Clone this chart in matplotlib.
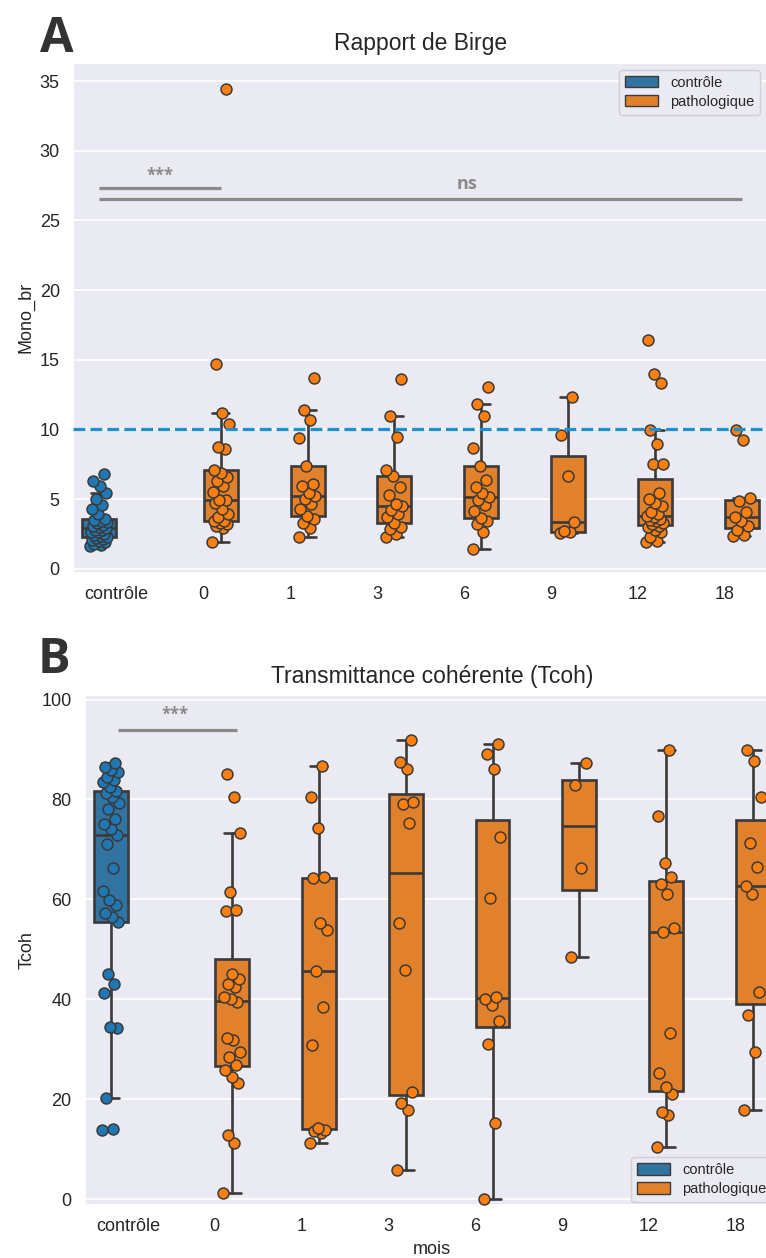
import numpy as np
import matplotlib.pyplot as plt
import seaborn as sns
from matplotlib.patches import Patch

sns.set_theme(style="darkgrid")
plt.rcParams['font.family'] = ['Liberation Sans', 'DejaVu Sans']

# categories on the x axis
mois = ['contrôle', '0', '1', '3', '6', '9', '12', '18']
groupes = ['contrôle', 'pathologique']

# Rapport de Birge (Mono_br)
birge_controle = [1.6, 1.7, 1.8, 1.9, 2.0, 2.05, 2.1, 2.2, 2.25, 2.35, 2.45, 2.5, 2.6,
                  2.65, 2.75, 2.8, 2.9, 3.0, 3.05, 3.15, 3.25, 3.35, 3.45, 3.5, 3.57,
                  3.9, 4.3, 4.6, 5.0, 5.4, 5.9, 6.3, 6.8]
birge_m0 = [1.9, 2.9, 3.1, 3.2, 3.3, 3.4, 3.4, 3.7, 3.9, 4.3, 4.7, 4.9, 4.95, 5.5,
            5.9, 6.3, 6.6, 6.9, 7.05, 8.6, 8.7, 10.4, 11.2, 14.7, 34.4]
birge_m1 = [2.3, 2.9, 3.3, 3.6, 3.8, 4.3, 4.65, 5.0, 5.2, 5.4, 5.9, 6.1, 7.35, 9.4,
            10.7, 11.4, 13.7]
birge_m3 = [2.25, 2.5, 2.85, 3.0, 3.26, 3.69, 3.9, 4.2, 4.48, 4.65, 5.3, 5.85, 6.64,
            7.05, 9.45, 10.94, 13.65]
birge_m6 = [1.42, 2.61, 3.2, 3.4, 3.65, 4.17, 4.6, 4.9, 5.13, 5.42, 5.85, 6.38, 7.34,
            8.68, 10.94, 11.85, 13.04]
birge_m9 = [2.58, 2.62, 2.7, 3.38, 6.62, 9.57, 12.33]
birge_m12 = [1.9, 2.0, 2.3, 2.6, 2.8, 3.0, 3.1, 3.2, 3.3, 3.4, 3.5, 3.6, 3.7, 3.81,
             3.95, 4.1, 4.5, 4.7, 5.0, 5.4, 7.5, 7.55, 8.97, 9.97, 13.3, 14.0, 16.4]
birge_m18 = [2.35, 2.45, 2.75, 3.05, 3.4, 3.73, 4.09, 4.85, 5.05, 9.24, 9.96]

# Transmittance coherente (Tcoh)
tcoh_controle = [13.8, 14.0, 20.3, 34.2, 34.5, 41.2, 43.0, 45.0, 55.5, 56.5, 57.2,
                 58.9, 59.9, 61.7, 66.2, 71.0, 72.9, 74.0, 75.0, 76.0, 78.0, 79.2,
                 80.5, 81.2, 81.7, 82.5, 83.5, 84.0, 84.5, 85.5, 86.0, 86.5, 87.3]
tcoh_m0 = [1.2, 11.2, 12.9, 23.2, 24.5, 25.9, 26.9, 28.5, 29.5, 31.8, 32.2, 39.5,
           40.0, 40.5, 42.5, 43.0, 44.0, 45.0, 57.6, 57.9, 61.5, 73.2, 80.5, 85.2]
tcoh_m1 = [11.2, 13.2, 13.6, 13.9, 14.2, 30.9, 38.5, 45.7, 53.9, 55.2, 64.2, 64.5,
           74.2, 80.5, 86.7]
tcoh_m3 = [5.9, 17.9, 19.2, 21.5, 45.9, 55.2, 75.2, 79.0, 79.5, 86.2, 87.5, 91.9]
tcoh_m6 = [0.0, 15.3, 31.0, 35.7, 38.9, 40.0, 40.5, 60.2, 72.4, 86.2, 89.2, 91.1]
tcoh_m9 = [48.5, 66.3, 82.9, 87.3]
tcoh_m12 = [10.5, 16.9, 17.4, 21.0, 22.4, 25.3, 33.2, 53.5, 54.2, 61.1, 63.1, 64.4,
            67.3, 76.7, 89.9]
tcoh_m18 = [17.9, 29.4, 36.9, 41.4, 61.1, 62.7, 66.5, 71.2, 80.4, 87.7, 89.9]

birge = [birge_controle, birge_m0, birge_m1, birge_m3, birge_m6, birge_m9, birge_m12, birge_m18]
tcoh = [tcoh_controle, tcoh_m0, tcoh_m1, tcoh_m3, tcoh_m6, tcoh_m9, tcoh_m12, tcoh_m18]

box_col = ['#3274a1', '#e1812c']
pt_col = ['#1f77b4', '#ff7f0e']
edge = '#3a3a3a'
sig_grey = '#8a8a8a'


def draw_panel(ax, series):
    for i, vals in enumerate(series):
        g = 0 if i == 0 else 1
        pos = i - 0.2 if g == 0 else i + 0.2
        ax.boxplot(vals, positions=[pos], widths=0.39, patch_artist=True,
                   boxprops=dict(facecolor=box_col[g], edgecolor=edge, linewidth=1.9),
                   medianprops=dict(color=edge, linewidth=1.9),
                   whiskerprops=dict(color=edge, linewidth=1.9),
                   capprops=dict(color=edge, linewidth=1.9),
                   showfliers=False, manage_ticks=False, zorder=2)
        # deterministic jitter (golden-ratio sequence)
        jit = ((np.arange(len(vals)) * 0.618034) % 1 - 0.5) * 0.2
        ax.scatter(pos + jit, vals, s=62, color=pt_col[g], edgecolors=edge,
                   linewidths=1.1, zorder=3)
    ax.set_xlim(-0.5, 7.5)
    ax.set_xticks(range(len(mois)))
    ax.set_xticklabels(mois)
    ax.xaxis.grid(False)
    ax.yaxis.grid(True, color='white', linewidth=1.3)
    ax.tick_params(labelsize=13, colors='#262626')


fig = plt.figure(figsize=(7.66, 12.58), dpi=100)
axA = fig.add_axes([73 / 766, 0.5445, 695 / 766, 0.4057])
axB = fig.add_axes([84.6 / 766, 0.0421, 694.4 / 766, 0.4054])

handles = [Patch(facecolor=box_col[0], edgecolor=edge, label=groupes[0]),
           Patch(facecolor=box_col[1], edgecolor=edge, label=groupes[1])]
leg_kw = dict(fontsize=10.5, handlelength=2.3, handleheight=0.8, labelspacing=0.35,
              borderaxespad=0, frameon=True, facecolor='#eaeaf2', edgecolor='0.8',
              framealpha=0.9)

# panel A
draw_panel(axA, birge)
axA.axhline(10, color='#1e90d0', linestyle='--', linewidth=2.3, zorder=4)
axA.set_ylim(-0.31, 36.32)
axA.set_yticks(range(0, 36, 5))
axA.set_ylabel('Mono_br', fontsize=13, color='#262626')
axA.set_title('Rapport de Birge', fontsize=16.5, color='#262626', pad=9)
axA.plot([-0.2, 1.2], [27.3, 27.3], color=sig_grey, linewidth=2.3, solid_capstyle='butt')
axA.plot([-0.2, 7.2], [26.55, 26.55], color=sig_grey, linewidth=2.3, solid_capstyle='butt')
axA.text(0.5, 28.2, '***', ha='center', va='center', fontsize=12, color=sig_grey,
         fontweight='bold', family='Open Sans')
axA.text(4.03, 27.6, 'ns', ha='center', va='center', fontsize=13, color=sig_grey,
         fontweight='bold', family='Open Sans')
axA.legend(handles=handles, loc='upper right', bbox_to_anchor=(0.9885, 0.9857), **leg_kw)

# panel B
draw_panel(axB, tcoh)
axB.set_ylim(-1.15, 100.9)
axB.set_yticks(range(0, 101, 20))
axB.set_ylabel('Tcoh', fontsize=13, color='#262626')
axB.set_xlabel('mois', fontsize=13, color='#262626')
axB.set_title('Transmittance cohérente (Tcoh)', fontsize=16.5, color='#262626', pad=9)
axB.plot([-0.12, 1.26], [94.0, 94.0], color=sig_grey, linewidth=2.3, solid_capstyle='butt')
axB.text(0.54, 96.9, '***', ha='center', va='center', fontsize=12, color=sig_grey,
         fontweight='bold', family='Open Sans')
axB.legend(handles=handles, loc='lower right', bbox_to_anchor=(0.99, 0.006), **leg_kw)

# panel letters
fig.text(40 / 766, 1 - 52 / 1258, 'A', fontsize=35, fontweight='bold',
         family='Open Sans', color='#333333', ha='left', va='baseline')
fig.text(38 / 766, 1 - 673 / 1258, 'B', fontsize=35, fontweight='bold',
         family='Open Sans', color='#333333', ha='left', va='baseline')

fig.savefig('out.png', dpi=100)
